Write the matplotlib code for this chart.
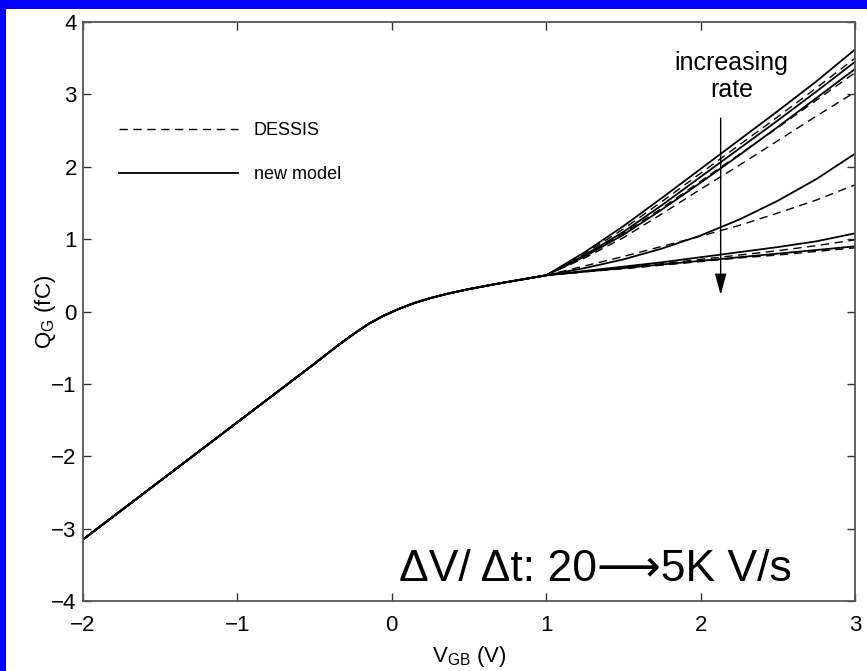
import matplotlib
matplotlib.use("Agg")
import matplotlib.pyplot as plt
from matplotlib.patches import Rectangle

plt.rcParams['font.family'] = ['Liberation Sans', 'DejaVu Sans']

# common part of the Q-V curve (all rates coincide)
v_common = [-2.0, -1.5, -1.0, -0.5, -0.35, -0.25, -0.15, -0.05, 0.05, 0.15, 0.25, 0.35, 0.5, 0.7, 0.85]
q_common = [-3.15, -2.34, -1.53, -0.72, -0.47, -0.315, -0.17, -0.055, 0.04, 0.12, 0.185, 0.24, 0.31, 0.39, 0.445]

# fan-out region, V_GB from 1 to 3
v_fan = [1.0, 1.25, 1.5, 1.75, 2.0, 2.25, 2.5, 2.75, 3.0]

new_model = [
    [0.50, 0.82, 1.18, 1.57, 1.97, 2.37, 2.77, 3.18, 3.62],
    [0.50, 0.78, 1.10, 1.47, 1.86, 2.25, 2.64, 3.04, 3.45],
    [0.50, 0.76, 1.06, 1.41, 1.78, 2.16, 2.55, 2.95, 3.35],
    [0.50, 0.60, 0.72, 0.87, 1.05, 1.27, 1.53, 1.83, 2.18],
    [0.50, 0.56, 0.62, 0.68, 0.75, 0.82, 0.89, 0.97, 1.08],
    [0.50, 0.55, 0.60, 0.65, 0.70, 0.75, 0.80, 0.85, 0.90],
]
dessis = [
    [0.50, 0.80, 1.14, 1.52, 1.91, 2.30, 2.69, 3.09, 3.50],
    [0.50, 0.77, 1.08, 1.43, 1.80, 2.17, 2.54, 2.92, 3.30],
    [0.50, 0.74, 1.02, 1.35, 1.69, 2.02, 2.36, 2.70, 3.03],
    [0.50, 0.63, 0.76, 0.90, 1.04, 1.19, 1.36, 1.54, 1.75],
    [0.50, 0.55, 0.61, 0.66, 0.72, 0.78, 0.84, 0.91, 0.99],
    [0.50, 0.55, 0.59, 0.64, 0.69, 0.74, 0.78, 0.83, 0.88],
]

x_ticks = [-2, -1, 0, 1, 2, 3]
y_ticks = [-4, -3, -2, -1, 0, 1, 2, 3, 4]

fig = plt.figure(figsize=(8.67, 6.71), dpi=100)
fig.patch.set_facecolor('white')
# blue frame of the slide
fig.patches.append(Rectangle((0, 1 - 9 / 671), 1, 9 / 671, transform=fig.transFigure,
                             facecolor='#0000ff', edgecolor='none', zorder=0))
fig.patches.append(Rectangle((0, 0), 6 / 867, 1, transform=fig.transFigure,
                             facecolor='#0000ff', edgecolor='none', zorder=0))

ax = fig.add_axes([83 / 867, 1 - 601 / 671, (855 - 83) / 867, (601 - 22) / 671])

for i, q in enumerate(dessis):
    ax.plot(v_common + v_fan, q_common + q, color='black', lw=1.0,
            linestyle=(0, (6, 4)), label='DESSIS' if i == 0 else None)
for i, q in enumerate(new_model):
    ax.plot(v_common + v_fan, q_common + q, color='black', lw=1.3,
            label='new model' if i == 0 else None)

ax.set_xlim(-2, 3)
ax.set_ylim(-4, 4)
ax.set_xticks(x_ticks)
ax.set_yticks(y_ticks)
ax.tick_params(direction='in', length=6, width=1.0, top=True, right=True,
               labelsize=16, colors='#333333', labelcolor='black')
ax.tick_params(axis='x', pad=10)
ax.tick_params(axis='y', pad=4.5)
for s in ax.spines.values():
    s.set_color('#555555')
    s.set_linewidth(1.3)

ax.set_xlabel(r'V$_{\mathregular{GB}}$ (V)', fontsize=16)
ax.set_ylabel(r'Q$_{\mathregular{G}}$ (fC)', fontsize=16)
ax.xaxis.set_label_coords(0.5, -0.074)
ax.yaxis.set_label_coords(-0.033, 0.5)

leg = ax.legend(loc='upper left', bbox_to_anchor=(0.025, 0.855), frameon=False,
                fontsize=13, handlelength=6.6, handletextpad=0.9, labelspacing=1.5)

ax.annotate('', xy=(2.13, 0.19), xytext=(2.13, 2.71),
            arrowprops=dict(arrowstyle='-|>,head_length=1.3,head_width=0.35',
                            color='black', lw=1.0))
ax.text(2.2, 3.60, 'increasing\nrate', ha='center', va='top', fontsize=18,
        linespacing=1.15)

ax.text(1.316, -3.57, 'ΔV/ Δt: 20⟶5K V/s', ha='center', va='center', fontsize=32)

fig.savefig('out.png', dpi=100)
